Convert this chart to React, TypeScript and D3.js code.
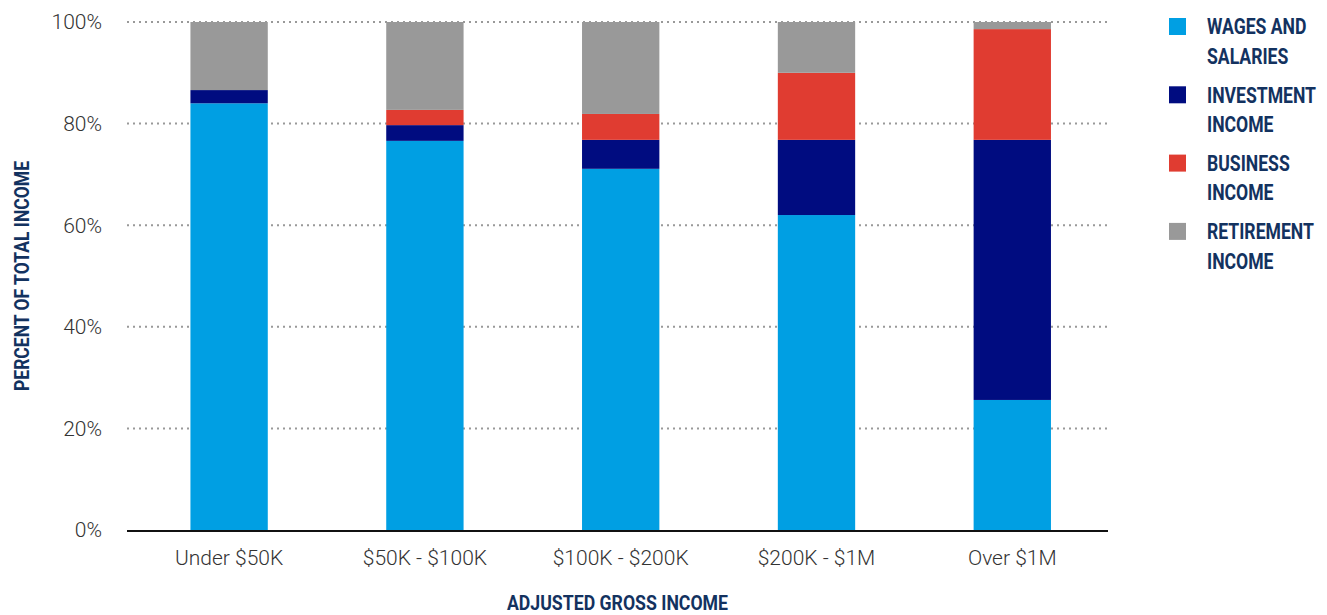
import React from "react";
import * as d3 from "d3";

const categories = ["Under $50K", "$50K - $100K", "$100K - $200K", "$200K - $1M", "Over $1M"];
const seriesNames = ["WAGES AND SALARIES", "INVESTMENT INCOME", "BUSINESS INCOME", "RETIREMENT INCOME"];
const legendLines = [["WAGES AND", "SALARIES"], ["INVESTMENT", "INCOME"], ["BUSINESS", "INCOME"], ["RETIREMENT", "INCOME"]];
const wages = [84.0, 76.6, 71.1, 62.0, 25.6];
const investment = [2.6, 3.1, 5.7, 14.8, 51.2];
const business = [0, 3.0, 5.1, 13.2, 21.8];
const retirement = [13.4, 17.3, 18.1, 10.0, 1.4];
const yTicks = [0, 20, 40, 60, 80, 100];
const colors = ["#009FE3", "#000C80", "#E03C31", "#999999"];

const W = 1327, H = 615;
const plotLeft = 127, plotRight = 1108;
const yTop = 22, yBottom = 530;
const TITLE = "#13325F";
const COND = "Roboto, 'Noto Sans', sans-serif";

export default function App() {
  const x = d3.scaleBand<string>().domain(categories).range([131.7, 1109.7]).paddingInner(0.605).paddingOuter(0.3);
  const y = d3.scaleLinear().domain([0, 100]).range([yBottom, yTop]);
  const rows = categories.map((c, i) => ({ cat: c, w: wages[i], inv: investment[i], bus: business[i], ret: retirement[i] }));
  const stack = d3.stack<any>().keys(["w", "inv", "bus", "ret"])(rows);

  return (
    <svg width={W} height={H} style={{ position: "absolute", left: 0, top: 0, background: "#fff" }}>
      {yTicks.map((t) => (
        <g key={t}>
          {t > 0 && (
            <line x1={plotLeft} x2={plotRight} y1={y(t)} y2={y(t)} stroke="#999" strokeWidth={2} strokeDasharray="2,4" />
          )}
          <text x={102} y={y(t)} dy="0.35em" textAnchor="end" fontFamily="Roboto, sans-serif" fontWeight={300} fontSize={21} fill="#333">
            {t}%
          </text>
        </g>
      ))}
      {stack.map((s, si) => (
        <g key={si} fill={colors[si]}>
          {s.map((d, i) => (
            <rect key={i} x={x(categories[i])} width={x.bandwidth()} y={y(d[1])} height={Math.max(0, y(d[0]) - y(d[1]))} />
          ))}
        </g>
      ))}
      <line x1={plotLeft} x2={plotRight} y1={y(0) + 1} y2={y(0) + 1} stroke="#111" strokeWidth={2} />
      {categories.map((c) => (
        <text key={c} x={(x(c) as number) + x.bandwidth() / 2} y={558} dy="0.35em" textAnchor="middle" fontFamily="Roboto, sans-serif" fontWeight={300} fontSize={21} fill="#333">
          {c}
        </text>
      ))}
      <text x={507} y={603} dy="0.35em" fontFamily={COND} fontWeight={700} fontSize={21} fill={TITLE} textLength={221} lengthAdjust="spacingAndGlyphs">
        ADJUSTED GROSS INCOME
      </text>
      <text transform={`translate(22,391) rotate(-90)`} dy="0.35em" fontFamily={COND} fontWeight={700} fontSize={20} fill={TITLE} textLength={230} lengthAdjust="spacingAndGlyphs">
        PERCENT OF TOTAL INCOME
      </text>
      {seriesNames.map((n, i) => (
        <g key={n} transform={`translate(1169, ${18 + i * 68.3})`}>
          <rect x={0} y={0} width={17} height={17} fill={colors[i]} />
          {legendLines[i].map((l, j) => (
            <g key={j} transform={`translate(38, ${8.5 + j * 29.5}) scale(0.8, 1)`}>
              <text x={0} y={0} dy="0.35em" fontFamily={COND} fontWeight={700} fontSize={22} fill={TITLE}>
                {l}
              </text>
            </g>
          ))}
        </g>
      ))}
    </svg>
  );
}
